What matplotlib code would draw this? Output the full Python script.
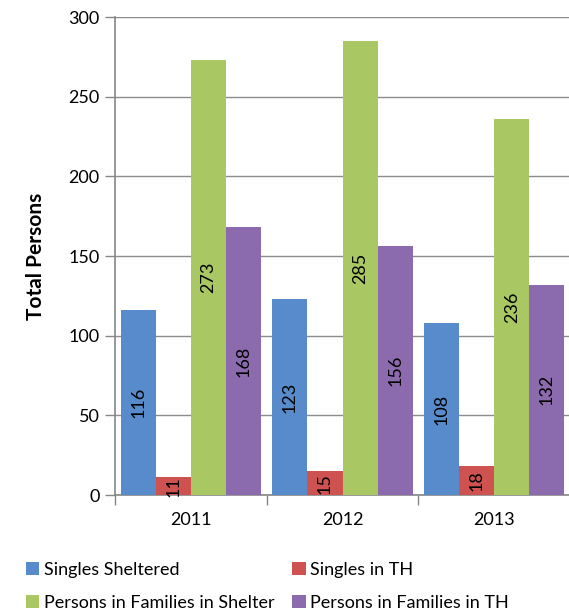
import matplotlib
matplotlib.use("Agg")
import matplotlib.pyplot as plt
import numpy as np

plt.rcParams['font.family'] = ['Lato', 'DejaVu Sans']

# data
years = ['2011', '2012', '2013']
series_names = ['Singles Sheltered', 'Singles in TH',
                'Persons in Families in Shelter', 'Persons in Families in TH']
singles_sheltered = [116, 123, 108]
singles_th = [11, 15, 18]
families_shelter = [273, 285, 236]
families_th = [168, 156, 132]
colors = ['#588BCB', '#CD5250', '#A9C763', '#8B6AAD']

series = [singles_sheltered, singles_th, families_shelter, families_th]

fig = plt.figure(figsize=(5.69, 6.16), dpi=100)
ax = fig.add_axes([0.202, 0.1964, 0.800, 0.776])

x = np.arange(len(years))
w = 0.231
handles = []
for i, (vals, c) in enumerate(zip(series, colors)):
    pos = x + (i - 1.5) * w
    bars = ax.bar(pos, vals, width=w, color=c, linewidth=0, zorder=3)
    handles.append(bars)
    for p, v in zip(pos, vals):
        ax.text(p, v / 2, str(v), rotation=90, ha='center', va='center',
                fontsize=13, color='black', zorder=4)

ax.set_xlim(-0.5, 2.5)
ax.set_ylim(0, 300)
ax.set_yticks(range(0, 301, 50))
ax.yaxis.grid(True, color='#8c8c8c', linewidth=1.0, zorder=0)
ax.set_axisbelow(True)

ax.set_xticks([-0.5, 0.5, 1.5, 2.5])
ax.set_xticklabels([])
ax.set_xticks(x, minor=True)
ax.set_xticklabels(years, minor=True)
ax.tick_params(axis='x', which='minor', length=0, labelsize=13, pad=12)
ax.tick_params(axis='x', which='major', length=7, color='#868686', width=1)
ax.tick_params(axis='y', length=7, color='#868686', width=1, labelsize=13, pad=4)

for s in ['top', 'right']:
    ax.spines[s].set_visible(False)
for s in ['left', 'bottom']:
    ax.spines[s].set_color('#868686')
    ax.spines[s].set_linewidth(1.2)

ax.set_ylabel('Total Persons', fontsize=15, fontweight='bold', labelpad=16)

order = [0, 2, 1, 3]
fig.legend([handles[k] for k in order], [series_names[k] for k in order],
           ncol=2, loc='upper left', bbox_to_anchor=(0.045, 0.088),
           frameon=False, fontsize=13, handlelength=0.75, handleheight=0.75,
           handletextpad=0.25, columnspacing=1.0, labelspacing=0.95,
           borderaxespad=0, borderpad=0)

fig.savefig('out.png', dpi=100)
